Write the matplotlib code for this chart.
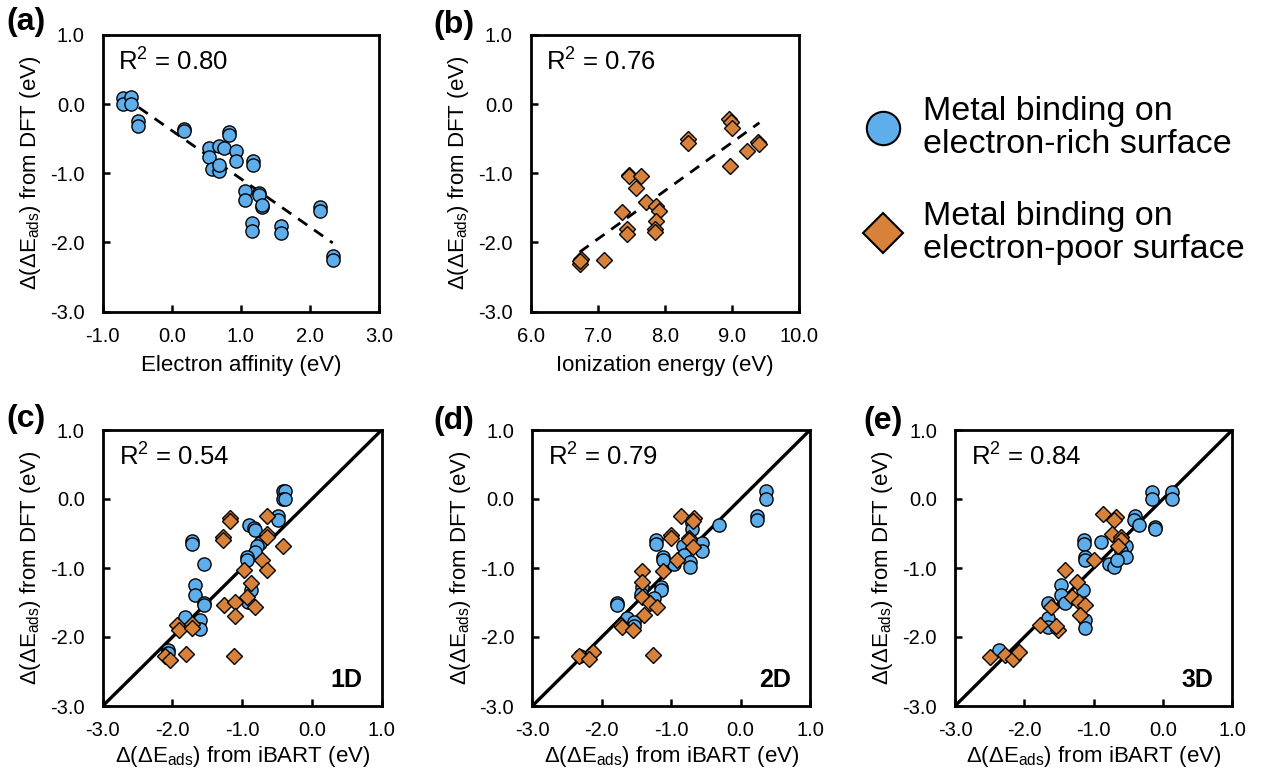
import numpy as np
import matplotlib
matplotlib.use("Agg")
import matplotlib.pyplot as plt
from matplotlib.lines import Line2D
from matplotlib.ticker import FormatStrFormatter

plt.rcParams['font.family'] = ['Liberation Sans', 'DejaVu Sans']
plt.rcParams['mathtext.fontset'] = 'custom'
plt.rcParams['mathtext.rm'] = 'Liberation Sans'
plt.rcParams['mathtext.it'] = 'Liberation Sans:italic'
plt.rcParams['axes.unicode_minus'] = False

BLUE = '#5DAEEB'
ORANGE = '#D8813B'

# (a) electron affinity vs DFT, electron-rich surface
ea_x = [-0.71, -0.71, -0.59, -0.59, -0.49, -0.49, 0.17, 0.17, 0.54, 0.54, 0.58, 0.69,
        0.69, 0.69, 0.76, 0.83, 0.83, 0.93, 0.93, 1.17, 1.17, 1.06, 1.06, 1.26, 1.26,
        1.31, 1.31, 1.16, 1.16, 1.58, 1.58, 2.14, 2.14, 2.33, 2.33]
ea_y = [0.09, 0.00, 0.10, 0.00, -0.24, -0.31, -0.36, -0.39, -0.64, -0.76, -0.94, -0.60,
        -0.97, -0.88, -0.64, -0.40, -0.45, -0.68, -0.83, -0.82, -0.88, -1.26, -1.39, -1.28,
        -1.31, -1.49, -1.46, -1.72, -1.84, -1.76, -1.87, -1.49, -1.54, -2.19, -2.25]

# (b) ionization energy vs DFT, electron-poor surface
ie_x = [6.75, 6.74, 6.73, 7.10, 7.36, 7.43, 7.43, 7.46, 7.47, 7.64, 7.57, 7.72, 7.87,
        7.91, 7.87, 7.86, 7.86, 8.34, 8.34, 8.96, 8.98, 9.00, 8.97, 9.23, 9.39, 9.41]
ie_y = [-2.24, -2.32, -2.27, -2.26, -1.56, -1.81, -1.88, -1.02, -1.04, -1.04, -1.21, -1.42,
        -1.47, -1.55, -1.69, -1.81, -1.85, -0.50, -0.56, -0.22, -0.26, -0.34, -0.89, -0.68,
        -0.55, -0.58]

# (c) 1D iBART
c_rich_x = [-0.42, -0.38, -0.42, -0.38, -0.48, -0.48, -0.90, -0.83, -0.81, -1.72, -1.72,
            -1.55, -0.75, -0.79, -0.82, -0.93, -0.93, -1.67, -1.67, -1.55, -1.55, -0.88,
            -0.91, -1.82, -1.60, -1.60, -2.06, -2.07]
c_rich_y = [0.11, 0.11, 0.00, 0.00, -0.24, -0.31, -0.37, -0.42, -0.45, -0.61, -0.65,
            -0.94, -0.64, -0.68, -0.77, -0.84, -0.89, -1.25, -1.39, -1.51, -1.54, -1.32,
            -1.49, -1.71, -1.76, -1.88, -2.19, -2.23]
c_poor_x = [-1.18, -1.18, -1.28, -1.28, -0.65, -0.65, -0.65, -0.41, -0.72, -0.65, -0.98,
            -0.88, -0.93, -0.82, -1.26, -1.11, -1.11, -1.12, -1.94, -1.91, -1.72, -1.72,
            -1.80, -2.10, -2.04]
c_poor_y = [-0.27, -0.32, -0.55, -0.59, -0.24, -0.51, -0.55, -0.68, -0.89, -1.03, -1.03,
            -1.22, -1.42, -1.56, -1.54, -1.49, -1.69, -2.27, -1.83, -1.90, -1.81, -1.87,
            -2.24, -2.28, -2.33]

# (d) 2D iBART
d_rich_x = [0.37, 0.37, 0.24, 0.24, -0.31, -0.70, -0.70, -1.22, -1.22, -0.83, -0.55,
            -0.55, -0.82, -0.73, -0.73, -0.96, -1.12, -1.12, -1.15, -1.15, -1.42, -1.44,
            -1.24, -1.78, -1.78, -1.63, -1.54, -1.54, -2.31]
d_rich_y = [0.11, 0.00, -0.24, -0.30, -0.38, -0.35, -0.43, -0.60, -0.65, -0.68, -0.64,
            -0.76, -0.81, -0.91, -0.98, -0.94, -0.84, -0.88, -1.27, -1.32, -1.27, -1.37,
            -1.44, -1.50, -1.54, -1.73, -1.78, -1.84, -2.28]
d_poor_x = [-0.86, -0.67, -0.68, -1.00, -1.00, -0.75, -0.75, -0.68, -0.91, -1.12, -1.42,
            -1.42, -1.42, -1.30, -1.20, -1.39, -1.72, -1.71, -1.55, -1.26, -2.33, -2.12,
            -2.18]
d_poor_y = [-0.24, -0.27, -0.32, -0.52, -0.56, -0.56, -0.59, -0.69, -0.88, -1.04, -1.04,
            -1.21, -1.42, -1.51, -1.57, -1.68, -1.83, -1.86, -1.90, -2.26, -2.28, -2.22,
            -2.32]

# (e) 3D iBART
e_rich_x = [0.13, 0.13, -0.16, -0.16, -0.41, -0.42, -0.34, -0.11, -0.11, -1.14, -1.14,
            -0.90, -0.53, -0.60, -0.53, -1.13, -1.13, -0.78, -0.70, -0.67, -1.47, -1.47,
            -1.42, -1.15, -1.66, -1.66, -1.66, -1.12, -1.12, -2.36]
e_rich_y = [0.10, 0.00, 0.10, 0.00, -0.24, -0.30, -0.38, -0.40, -0.44, -0.60, -0.65,
            -0.62, -0.68, -0.75, -0.84, -0.84, -0.89, -0.94, -0.98, -0.88, -1.25, -1.39,
            -1.50, -1.32, -1.50, -1.73, -1.85, -1.75, -1.87, -2.19]
e_poor_x = [-0.86, -0.68, -0.70, -0.73, -0.60, -0.60, -0.65, -1.00, -1.42, -1.24, -1.31,
            -1.21, -1.12, -1.19, -1.61, -1.78, -1.51, -1.54, -2.50, -2.28, -2.16, -2.08]
e_poor_y = [-0.22, -0.26, -0.30, -0.51, -0.55, -0.59, -0.68, -0.88, -1.03, -1.20, -1.42,
            -1.49, -1.54, -1.68, -1.56, -1.83, -1.90, -1.84, -2.29, -2.26, -2.32, -2.22]

W, H = 1262, 772
fig = plt.figure(figsize=(W / 100, H / 100), dpi=100)


def px_axes(l, r, t, b):
    return fig.add_axes([l / W, 1 - b / H, (r - l) / W, (b - t) / H])


def style(ax, xlim, xticks, xlabel, xpad=7):
    ax.set_xlim(*xlim)
    ax.set_ylim(-3, 1)
    ax.set_xticks(xticks)
    ax.set_yticks([-3, -2, -1, 0, 1])
    ax.xaxis.set_major_formatter(FormatStrFormatter('%.1f'))
    ax.yaxis.set_major_formatter(FormatStrFormatter('%.1f'))
    for s in ax.spines.values():
        s.set_linewidth(2.0)
    ax.tick_params(direction='in', length=5, width=1.8, labelsize=14.5)
    ax.tick_params(axis='y', pad=13)
    ax.tick_params(axis='x', pad=11)
    ax.set_xlabel(xlabel, fontsize=16, labelpad=xpad)
    ax.set_ylabel(r'Δ(ΔE$_{\rm ads}$) from DFT (eV)', fontsize=16, labelpad=5)


def dots(ax, x, y, kind):
    if kind == 'rich':
        ax.plot(x, y, 'o', ms=9.5, mfc=BLUE, mec='black', mew=1.0, zorder=3)
    else:
        ax.plot(x, y, 'D', ms=8.0, mfc=ORANGE, mec='black', mew=1.0, zorder=3)


def r2(ax, val):
    ax.text(0.057, 0.872, r'R$^2$ = ' + val, transform=ax.transAxes, fontsize=18.5,
            va='baseline', ha='left')


def fitline(ax, x, y):
    x = np.asarray(x)
    k, b = np.polyfit(x, y, 1)
    xs = np.array([x.min(), x.max()])
    ax.plot(xs, k * xs + b, color='black', lw=2.0, ls=(0, (4, 3)), zorder=2)


ibart_label = r'Δ(ΔE$_{\rm ads}$) from iBART (eV)'
ibart_ticks = [-3, -2, -1, 0, 1]

ax_a = px_axes(102.7, 379, 35, 311.5)
style(ax_a, (-1, 3), [-1, 0, 1, 2, 3], 'Electron affinity (eV)')
fitline(ax_a, ea_x, ea_y)
dots(ax_a, ea_x, ea_y, 'rich')
r2(ax_a, '0.80')

ax_b = px_axes(530.7, 799, 35, 311.5)
style(ax_b, (6, 10), [6, 7, 8, 9, 10], 'Ionization energy (eV)')
fitline(ax_b, ie_x, ie_y)
dots(ax_b, ie_x, ie_y, 'poor')
r2(ax_b, '0.76')

panels = [
    ((102.7, 381.7), c_rich_x, c_rich_y, c_poor_x, c_poor_y, '0.54', '1D'),
    ((532.3, 810), d_rich_x, d_rich_y, d_poor_x, d_poor_y, '0.79', '2D'),
    ((955, 1232.3), e_rich_x, e_rich_y, e_poor_x, e_poor_y, '0.84', '3D'),
]
for (l, r), rx, ry, px, py, rv, tag in panels:
    ax = px_axes(l, r, 430, 706)
    style(ax, (-3, 1), ibart_ticks, ibart_label, xpad=3)
    ax.plot([-3, 1], [-3, 1], color='black', lw=2.4, zorder=2)
    dots(ax, rx, ry, 'rich')
    dots(ax, px, py, 'poor')
    r2(ax, rv)
    ax.text(0.93, 0.05, tag, transform=ax.transAxes, fontsize=18, fontweight='bold',
            ha='right', va='bottom')

# panel letters
for lab, x, y in [('(a)', 6, 7), ('(b)', 433, 10), ('(c)', 6, 404), ('(d)', 433, 406),
                  ('(e)', 863, 406)]:
    fig.text(x / W, 1 - y / H, lab, fontsize=23, fontweight='bold', ha='left', va='top')

# legend
handles = [
    Line2D([], [], ls='none', marker='o', ms=24, mfc=BLUE, mec='black', mew=1.5),
    Line2D([], [], ls='none', marker='D', ms=20.5, mfc=ORANGE, mec='black', mew=1.5),
]
labels = ['Metal binding on\nelectron-rich surface', 'Metal binding on\nelectron-poor surface']
leg = fig.legend(handles, labels, loc='upper left', bbox_to_anchor=(852 / W, 1 - 82 / H),
                 frameon=False, fontsize=24.5, handletextpad=0.7, labelspacing=1.2,
                 borderaxespad=0, handlelength=1.0)
for t in leg.get_texts():
    t.set_linespacing(1.1)

fig.savefig('out.png', dpi=100)
